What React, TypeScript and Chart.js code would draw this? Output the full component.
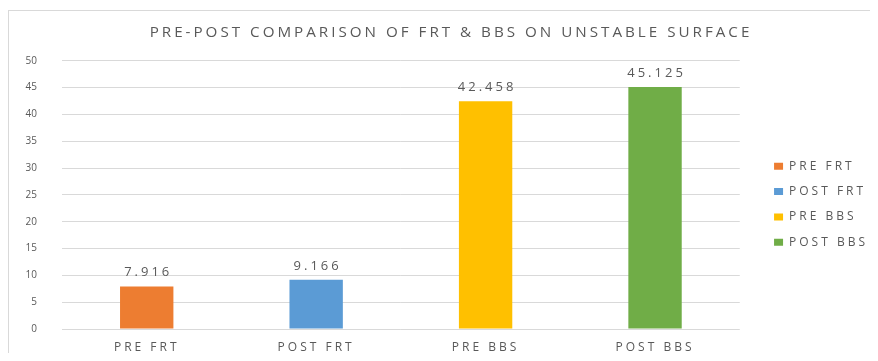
import React, { useEffect, useRef } from 'react';
import { Chart, registerables } from 'chart.js';

Chart.register(...registerables);

const titleText = 'PRE-POST COMPARISON OF FRT & BBS ON UNSTABLE SURFACE';
const categories = ['PRE FRT', 'POST FRT', 'PRE BBS', 'POST BBS'];
const values = [7.916, 9.166, 42.458, 45.125];
const valueLabels = ['7.916', '9.166', '42.458', '45.125'];
const barColors = ['#ED7D31', '#5B9BD5', '#FFC000', '#70AD47'];
const yMin = 0;
const yMax = 50;
const yStep = 5;

const FONT = "'Open Sans', 'DejaVu Sans', sans-serif";
const TEXT = '#595959';
const GRID = '#D9D9D9';
const SPACING = '3px';

export default function App() {
  const ref = useRef<HTMLCanvasElement>(null);

  useEffect(() => {
    const canvas = ref.current;
    if (!canvas) return;

    const spacingPlugin = {
      id: 'letterSpacingPlugin',
      beforeUpdate(chart: any) {
        chart.ctx.letterSpacing = SPACING;
      },
      beforeDraw(chart: any) {
        chart.ctx.letterSpacing = SPACING;
      },
      afterLayout(chart: any) {
        const y = chart.scales.y;
        if (y && !y.__wrapped) {
          const orig = y.drawLabels;
          y.drawLabels = function (area: any) {
            const c = this.ctx;
            const prev = c.letterSpacing;
            c.letterSpacing = '0px';
            orig.call(this, area);
            c.letterSpacing = prev;
          };
          y.__wrapped = true;
        }
      },
    };

    const valuePlugin = {
      id: 'valueLabels',
      afterDatasetsDraw(chart: any) {
        const ctx = chart.ctx;
        const meta = chart.getDatasetMeta(0);
        ctx.save();
        ctx.letterSpacing = SPACING;
        ctx.font = `13px ${FONT}`;
        ctx.fillStyle = TEXT;
        ctx.textAlign = 'center';
        ctx.textBaseline = 'middle';
        meta.data.forEach((el: any, i: number) => {
          ctx.fillText(valueLabels[i], el.x + 1.5, el.y - 14);
        });
        ctx.restore();
      },
    };

    const chart = new Chart(canvas, {
      type: 'bar',
      data: {
        labels: categories,
        datasets: [
          {
            label: 'Value',
            data: values,
            backgroundColor: barColors,
            borderWidth: 0,
            categoryPercentage: 1,
            barPercentage: 0.315,
          },
        ],
      },
      options: {
        responsive: false,
        animation: false,
        devicePixelRatio: 1,
        layout: { padding: { left: 15, right: 0, top: 0, bottom: 0 } },
        scales: {
          x: {
            grid: { display: false, drawTicks: false },
            border: { display: false },
            ticks: {
              color: TEXT,
              font: { family: FONT, size: 12 },
              padding: 11,
              maxRotation: 0,
              autoSkip: false,
            },
            afterFit: (s: any) => {
              s.height = 24;
            },
          },
          y: {
            min: yMin,
            max: yMax,
            ticks: {
              stepSize: yStep,
              color: TEXT,
              font: { family: FONT, size: 10 },
              padding: 0,
            },
            grid: {
              color: GRID,
              lineWidth: 1,
              drawTicks: true,
              tickLength: 25,
              tickColor: 'rgba(0,0,0,0)',
            },
            border: { display: false },
            afterFit: (s: any) => {
              s.width = 38;
            },
          },
          yR: {
            type: 'linear',
            position: 'right',
            display: true,
            grid: { display: false, drawTicks: false },
            border: { display: false },
            ticks: { display: false },
            afterFit: (s: any) => {
              s.width = 21;
            },
          },
        },
        plugins: {
          title: {
            display: true,
            text: titleText,
            color: TEXT,
            font: { family: FONT, size: 15.2, weight: 'normal' },
            padding: { top: 12.5, bottom: 19 },
          },
          legend: {
            position: 'right',
            align: 'start',
            onClick: () => {},
            title: {
              display: true,
              text: ' ',
              font: { size: 10 },
              padding: { top: 62, bottom: 62 },
            },
            labels: {
              boxWidth: 9,
              boxHeight: 7,
              padding: 13.3,
              color: TEXT,
              font: { family: FONT, size: 12 },
              generateLabels: () =>
                categories.map((c, i) => ({
                  text: c,
                  fillStyle: barColors[i],
                  strokeStyle: barColors[i],
                  lineWidth: 0,
                  hidden: false,
                  index: i,
                  datasetIndex: 0,
                  fontColor: TEXT,
                })),
            },
          },
          tooltip: { enabled: false },
        },
      } as any,
      plugins: [spacingPlugin, valuePlugin],
    });

    return () => {
      chart.destroy();
    };
  }, []);

  return (
    <div style={{ paddingTop: 2 }}>
      <div style={{ borderTop: '1px solid #D9D9D9', borderLeft: '1px solid #D9D9D9' }}>
        <canvas ref={ref} width={869} height={342} style={{ display: 'block' }} />
      </div>
    </div>
  );
}
